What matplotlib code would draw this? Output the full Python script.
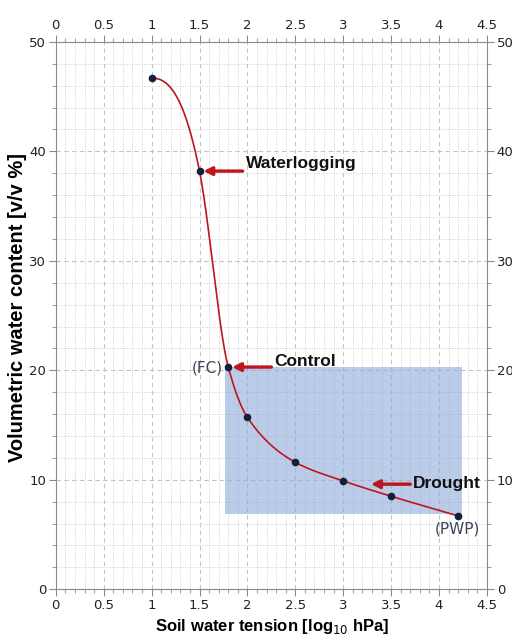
import numpy as np
import matplotlib
matplotlib.use("Agg")
import matplotlib.pyplot as plt
from matplotlib.ticker import MultipleLocator

# retention curve points: tension [log10 hPa] vs water content [v/v %]
tension = [1.0, 1.5, 1.8, 2.0, 2.5, 3.0, 3.5, 4.2]
water = [46.7, 38.2, 20.3, 15.7, 11.6, 9.9, 8.5, 6.7]

# shaded drought range between FC and PWP
box_x = [1.77, 4.24]
box_y = [6.9, 20.3]

labels = ["Waterlogging", "Control", "Drought"]
label_pts = [(1.5, 38.2), (1.8, 20.3), (3.25, 9.6)]
label_dy = [0.7, 0.5, 0.1]

red = "#c0141c"
dot = "#14203a"


def smooth(x, y, xs):
    # monotone cubic hermite through the points, flat start
    x = np.asarray(x, float)
    y = np.asarray(y, float)
    h = np.diff(x)
    d = np.diff(y) / h
    m = np.zeros_like(y)
    for k in range(1, len(x) - 1):
        w1 = 2 * h[k] + h[k - 1]
        w2 = h[k] + 2 * h[k - 1]
        m[k] = (w1 + w2) / (w1 / d[k - 1] + w2 / d[k])
    # steeper tangent at the second point so the drop stays straight
    m[1] = (h[1] * d[0] + h[0] * d[1]) / (h[0] + h[1])
    m[0] = 0.0
    m[-1] = d[-1]
    out = np.empty_like(xs)
    for i, xv in enumerate(xs):
        k = min(np.searchsorted(x, xv, side="right") - 1, len(x) - 2)
        t = (xv - x[k]) / h[k]
        h00 = 2 * t**3 - 3 * t**2 + 1
        h10 = t**3 - 2 * t**2 + t
        h01 = -2 * t**3 + 3 * t**2
        h11 = t**3 - t**2
        out[i] = h00 * y[k] + h10 * h[k] * m[k] + h01 * y[k + 1] + h11 * h[k] * m[k + 1]
    return out


fig = plt.figure(figsize=(5.12, 6.35), dpi=100)
ax = fig.add_axes([0.109, 0.072, 0.842, 0.862])

ax.set_xlim(0, 4.5)
ax.set_ylim(0, 50)
ax.xaxis.set_major_locator(MultipleLocator(0.5))
ax.xaxis.set_minor_locator(MultipleLocator(0.1))
ax.yaxis.set_major_locator(MultipleLocator(10))
ax.yaxis.set_minor_locator(MultipleLocator(2))
ax.xaxis.set_major_formatter(plt.FuncFormatter(lambda v, p: f"{v:g}"))

ax.grid(which="major", color="#c4c4c4", linestyle=(0, (4, 3)), linewidth=0.8)
ax.grid(which="minor", color="#cfcfcf", linestyle=(0, (1, 1.5)), linewidth=0.7)
ax.set_axisbelow(True)

for s in ax.spines.values():
    s.set_color("#8a8a8a")
ax.tick_params(which="both", direction="out", color="#8a8a8a",
               top=True, right=True, labeltop=True, labelright=True,
               labelsize=9.5, labelcolor="#222222", pad=2)
ax.tick_params(which="major", length=5)
ax.tick_params(which="minor", length=3)

ax.fill_between(box_x, box_y[0], box_y[1], color="#8eaadb", alpha=0.6,
                linewidth=0, zorder=1)

xs = np.linspace(tension[0], tension[-1], 400)
ax.plot(xs, smooth(tension, water, xs), color=red, linewidth=1.2, zorder=3)
ax.plot(tension, water, "o", color=dot, markersize=4.5, zorder=4)

# arrows pointing at the treatment levels
for lab, (px, py), dy in zip(labels, label_pts, label_dy):
    ax.annotate("", xy=(px + 0.04, py), xytext=(px + 0.45, py),
                arrowprops=dict(arrowstyle="-|>", color=red, lw=2.4,
                                mutation_scale=12, shrinkA=0, shrinkB=0),
                zorder=5)
    ax.text(px + 0.48, py + dy, lab, fontsize=12.5, fontweight="bold",
            family="Liberation Sans", va="center", ha="left", color="#111111",
            zorder=5)

ax.text(1.74, 20.2, "(FC)", fontsize=11, color="#3c4658", ha="right", va="center")
ax.text(4.19, 5.5, "(PWP)", fontsize=11, color="#3c4658", ha="center", va="center")

ax.set_xlabel("Soil water tension [log$_{10}$ hPa]", fontsize=12,
              fontweight="bold", family="Liberation Sans")
ax.set_ylabel("Volumetric water content [v/v %]", fontsize=14.5,
              fontweight="bold", family="Liberation Sans")
ax.xaxis.set_label_coords(0.501, -0.068)
ax.yaxis.set_label_coords(-0.09, 0.515)
ax.xaxis.label.set_va("center")
ax.yaxis.label.set_va("center")

fig.savefig("out.png", dpi=100)
